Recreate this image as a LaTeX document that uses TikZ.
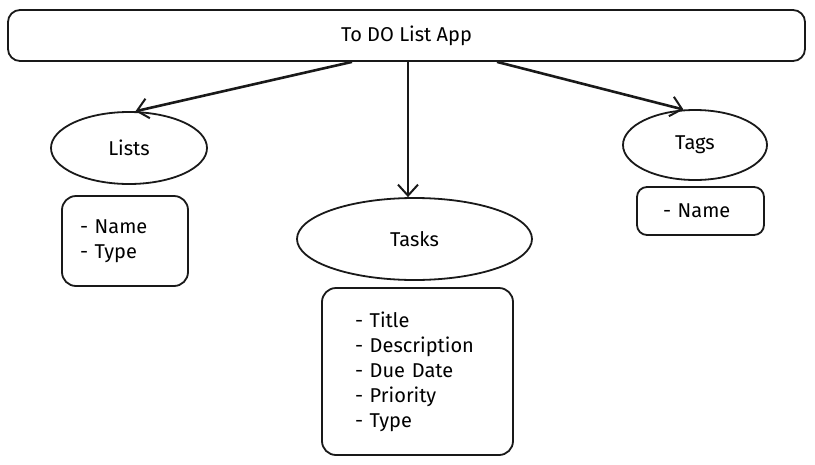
\documentclass[tikz,border=0pt]{standalone}
\usepackage{fontspec}
\setmainfont{Fira Sans}
\usetikzlibrary{arrows.meta,shapes.geometric,calc}
\begin{document}
\begin{tikzpicture}[x=1pt,y=-1pt,
  shp/.style={draw=black!90, line width=1.8pt},
  ell/.style={shp, ellipse, inner sep=0pt, font=\fontsize{20}{24}\selectfont},
  listbox/.style={shp, rounded corners=14pt, align=left, inner sep=0pt, font=\fontsize{20}{25}\selectfont},
  conn/.style={draw=black!90, line width=2.6pt, -{Straight Barb[length=11pt,width=20pt,line width=2pt]}}
]
\useasboundingbox (0,0) rectangle (815,464);
\node[shp, rounded corners=12pt, minimum width=797pt, minimum height=51pt, inner sep=0pt,
      font=\fontsize{20}{24}\selectfont] (top) at (406.5,35.5) {\raisebox{-3pt}{To DO List App}};
\node[ell, minimum width=156pt, minimum height=72pt] (lists) at (129,148) {Lists};
\node[ell, minimum width=235pt, minimum height=82pt] (tasks) at (414.5,239) {Tasks};
\node[ell, minimum width=144pt, minimum height=70pt] (tags) at (695,145) {\raisebox{-2pt}{Tags}};
\node[listbox, minimum width=126pt, minimum height=90pt, inner xsep=18pt, text width=90pt] (listsbox) at (125,241) {- Name\\- Type};
\node[listbox, minimum width=191pt, minimum height=167pt, inner xsep=33pt, text width=125pt] (tasksbox) at (417.5,371.5) {- Title\\- Description\\- Due Date\\- Priority\\- Type};
\node[listbox, rounded corners=10pt, minimum width=127pt, minimum height=48pt, inner xsep=26pt, text width=75pt] (tagsbox) at (700.5,211) {- Name};
\coordinate (s1) at ($(top.south)+(-54.5,0)$);
\coordinate (s2) at ($(top.south)+(1.5,0)$);
\coordinate (s3) at ($(top.south)+(90.5,0)$);
\draw[conn] (s1) -- (lists.80);
\draw[conn] (s2) -- (s2 |- tasks.north);
\draw[conn] (s3) -- (tags.108);
\end{tikzpicture}
\end{document}
